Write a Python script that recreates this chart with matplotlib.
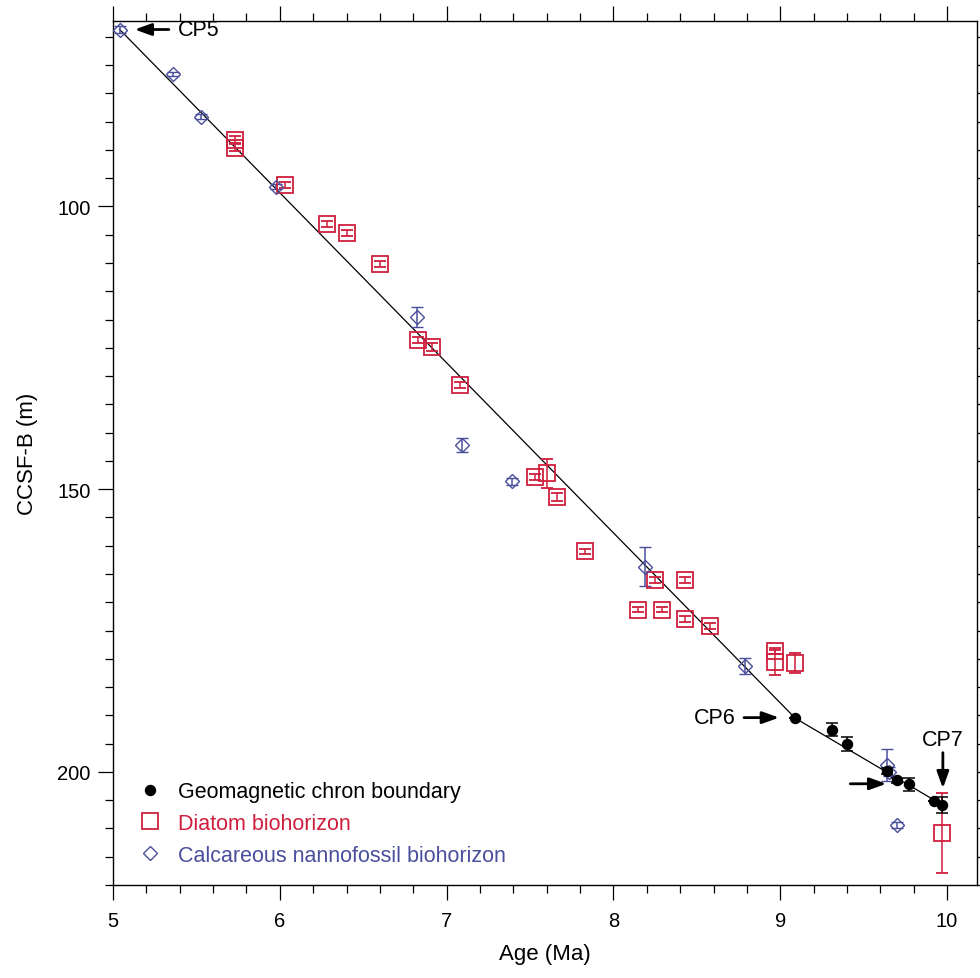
import matplotlib
matplotlib.use('Agg')
import matplotlib.pyplot as plt
import numpy as np

plt.rcParams['font.family'] = ['Liberation Sans', 'DejaVu Sans']

# age model control points (Ma, m)
cp_age = [5.04, 9.09, 9.97]
cp_depth = [68.7, 190.5, 205.8]

# geomagnetic chron boundaries
geo_age = [9.09, 9.31, 9.40, 9.64, 9.70, 9.77, 9.92, 9.97]
geo_depth = [190.5, 192.5, 195.1, 199.8, 201.5, 202.2, 205.1, 205.8]
geo_err = [0.0, 1.1, 1.2, 0.5, 0.5, 1.1, 0.0, 1.4]

# diatom biohorizons
dia_age = [5.73, 5.73, 6.03, 6.28, 6.40, 6.60, 6.83, 6.91, 7.08, 7.53, 7.60,
           7.66, 7.83, 8.25, 8.43, 8.15, 8.29, 8.43, 8.58, 8.97, 8.97, 9.09, 9.97]
dia_depth = [88.2, 89.6, 96.2, 103.1, 104.7, 110.2, 123.6, 124.8, 131.6, 147.9, 147.2,
             151.3, 161.0, 166.1, 166.1, 171.3, 171.3, 172.9, 174.2, 178.6, 180.6, 180.7, 210.8]
dia_err = [0.6, 0.6, 0.5, 0.5, 0.5, 0.5, 0.5, 0.7, 0.5, 0.5, 2.5,
           0.7, 0.4, 0.5, 0.5, 0.5, 0.5, 0.5, 0.6, 0.5, 2.2, 1.8, 7.0]

# calcareous nannofossil biohorizons
nan_age = [5.04, 5.36, 5.53, 5.98, 6.82, 7.09, 7.39, 8.19, 8.79, 9.64, 9.65, 9.70]
nan_depth = [68.7, 76.6, 84.1, 96.5, 119.6, 142.2, 148.6, 163.7, 181.2, 198.8, 200.0, 209.4]
nan_err = [0.6, 0.3, 0.4, 0.4, 1.8, 1.2, 0.6, 3.5, 1.4, 2.8, 0.8, 0.5]

red = '#cf1f3d'
blue = '#4a4f9c'

fig = plt.figure(figsize=(9.8, 9.79), dpi=100)
ax = fig.add_axes([0.1153, 0.095, 0.8817, 0.8825])

ax.plot(cp_age, cp_depth, color='black', lw=0.9, zorder=2)

ax.errorbar(dia_age, dia_depth, yerr=dia_err, fmt='s', ms=11, mfc='none', mec=red,
            mew=1.3, ecolor=red, elinewidth=1.1, capsize=4, capthick=1.1,
            label='Diatom biohorizon', zorder=3)
ax.errorbar(nan_age, nan_depth, yerr=nan_err, fmt='D', ms=7, mfc='none', mec=blue,
            mew=1.0, ecolor=blue, elinewidth=1.1, capsize=4, capthick=1.1,
            label='Calcareous nannofossil biohorizon', zorder=3)
ax.errorbar(geo_age, geo_depth, yerr=geo_err, fmt='o', ms=7.2, mfc='black', mec='black',
            ecolor='black', elinewidth=1.1, capsize=4, capthick=1.1,
            label='Geomagnetic chron boundary', zorder=4)

# CP arrows and labels
arrow = dict(arrowstyle='-|>,head_length=0.5,head_width=0.18', color='black', lw=2,
             mutation_scale=20, shrinkA=0, shrinkB=0)
ax.annotate('', xy=(5.13, 68.7), xytext=(5.335, 68.7), arrowprops=arrow)
ax.text(5.388, 68.7, 'CP5', fontsize=15.5, ha='left', va='center')
ax.annotate('', xy=(8.993, 190.4), xytext=(8.783, 190.4), arrowprops=arrow)
ax.text(8.73, 190.4, 'CP6', fontsize=15.5, ha='right', va='center')
ax.annotate('', xy=(9.636, 202.1), xytext=(9.42, 202.1), arrowprops=arrow)
ax.annotate('', xy=(9.975, 202.9), xytext=(9.975, 196.6), arrowprops=arrow)
ax.text(9.975, 194.2, 'CP7', fontsize=15.5, ha='center', va='center')

ax.set_xlim(5, 10.18)
ax.set_ylim(220, 67.2)
ax.set_xticks(np.arange(5, 11, 1))
ax.set_xticks(np.arange(5, 10.2, 0.2), minor=True)
ax.set_yticks([100, 150, 200])
ax.set_yticks(np.arange(70, 221, 5), minor=True)
ax.tick_params(which='both', direction='out', top=True, right=True,
               labelsize=14.5, width=0.9)
ax.tick_params(axis='y', pad=5)
ax.tick_params(axis='x', pad=8)
ax.tick_params(which='major', length=11)
ax.tick_params(which='minor', length=5.5)
for s in ax.spines.values():
    s.set_linewidth(1.0)

ax.set_xlabel('Age (Ma)', fontsize=16, labelpad=9)
ax.set_ylabel('CCSF-B (m)', fontsize=16, labelpad=14)

h, l = ax.get_legend_handles_labels()
order = [2, 0, 1]
leg = ax.legend([h[i][0] for i in order], [l[i] for i in order], loc='lower left',
                bbox_to_anchor=(0.005, 0.0), frameon=False, fontsize=15.5,
                handletextpad=0.7, labelspacing=0.5, handlelength=1.2)
for txt, c in zip(leg.get_texts(), ['black', red, blue]):
    txt.set_color(c)

fig.savefig('out.png', dpi=100)
